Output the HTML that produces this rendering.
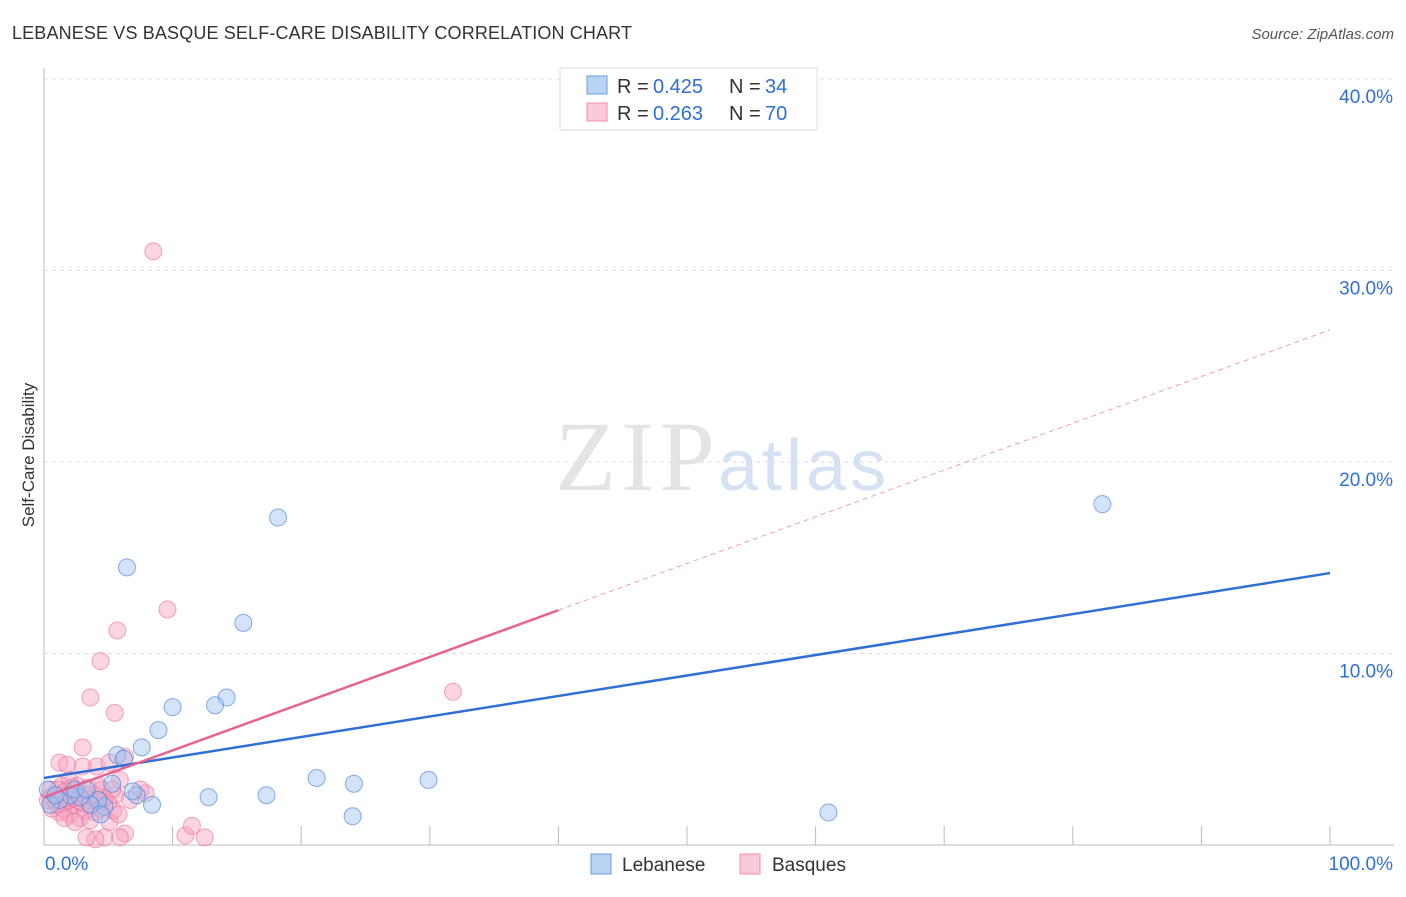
<!DOCTYPE html>
<html><head><meta charset="utf-8"><style>
body{margin:0;background:#fff;font-family:"Liberation Sans",sans-serif;}
svg text{font-family:"Liberation Sans",sans-serif;}
</style></head><body>
<svg width="1406" height="892" xmlns="http://www.w3.org/2000/svg">
<text x="12" y="39" font-size="18" fill="#333" textLength="620">LEBANESE VS BASQUE SELF-CARE DISABILITY CORRELATION CHART</text>
<text x="1394" y="39" font-size="15" fill="#555" font-style="italic" text-anchor="end">Source: ZipAtlas.com</text>
<text x="715" y="490" font-size="100" fill="#e4e4e4" text-anchor="end" textLength="160" style="font-family:'Liberation Serif',serif">ZIP</text>
<text x="718" y="490" font-size="72" fill="#d4e2f4" textLength="168">atlas</text>
<g id="grid"></g>
<g id="axes"></g>
<g id="pts"></g>
<g id="trend"></g>
<text x="34" y="455" font-size="17" fill="#333" transform="rotate(-90 34 455)" text-anchor="middle">Self-Care Disability</text>
<g>
<rect x="560" y="68" width="257" height="62" fill="#fff" stroke="#ddd"/>
<rect x="587" y="76" width="20" height="18" fill="#b9d3f5" stroke="#6a9ee0"/>
<rect x="587" y="103" width="20" height="18" fill="#fcc9d8" stroke="#ef8fb0"/>
<text x="617" y="93" font-size="20" fill="#333">R =</text>
<text x="653" y="93" font-size="20" fill="#2f6fd6">0.425</text>
<text x="729" y="93" font-size="20" fill="#333">N =</text>
<text x="765" y="93" font-size="20" fill="#2f6fd6">34</text>
<text x="617" y="120" font-size="20" fill="#333">R =</text>
<text x="653" y="120" font-size="20" fill="#2f6fd6">0.263</text>
<text x="729" y="120" font-size="20" fill="#333">N =</text>
<text x="765" y="120" font-size="20" fill="#2f6fd6">70</text>
</g>
<g>
<rect x="591" y="854" width="20" height="20" fill="#b9d3f5" stroke="#6a9ee0"/>
<text x="622" y="871" font-size="19" fill="#333">Lebanese</text>
<rect x="740" y="854" width="20" height="20" fill="#fcc9d8" stroke="#ef8fb0"/>
<text x="772" y="871" font-size="19" fill="#333">Basques</text>
</g>
</svg>
<script>
const yTicks=[10,20,30,40];
const yTickLabels=["10.0%","20.0%","30.0%","40.0%"];
const xTickLabels=["0.0%","100.0%"];
const lebX=[6.45,18.2,82.3,15.5,10.0,14.2,13.3,8.9,7.6,5.7,6.2,21.2,24.1,29.9,12.8,17.3,8.4,7.2,6.9,5.3,24.0,61.0,4.7,4.2,3.6,2.8,2.0,1.2,0.5,0.3,2.4,0.9,3.3,4.4];
const lebY=[14.5,17.1,17.8,11.6,7.2,7.7,7.3,6.0,5.1,4.7,4.5,3.5,3.2,3.4,2.5,2.6,2.1,2.6,2.8,3.2,1.5,1.7,2.0,2.35,2.1,2.5,2.6,2.35,2.1,2.9,2.9,2.6,2.9,1.6];
const basX=[8.5,9.6,5.7,4.4,3.6,5.5,31.8,3.0,1.2,1.8,6.3,4.1,3.0,5.1,2.0,2.6,5.9,7.9,5.5,4.7,3.4,1.2,0.5,0.9,1.6,2.4,3.2,4.0,5.1,2.0,2.8,3.6,1.2,6.3,5.9,4.7,4.0,3.3,11.0,11.5,12.5,0.5,0.6,1.0,1.5,1.9,2.2,2.6,3.0,3.7,4.4,5.0,5.4,5.8,0.3,1.4,2.2,3.2,4.0,4.5,1.1,1.7,2.5,3.4,4.2,5.3,6.7,7.5,1.6,2.4];
const basY=[31.0,12.3,11.2,9.6,7.7,6.9,8.0,5.1,4.3,4.2,4.6,4.1,4.1,4.3,3.4,3.1,3.4,2.7,2.6,2.45,2.35,2.6,2.5,2.35,2.2,2.1,1.8,1.7,1.2,1.6,1.4,1.3,1.7,0.6,0.4,0.4,0.3,0.4,0.5,1.0,0.4,2.9,1.9,2.1,1.9,2.35,2.45,2.35,2.2,2.1,1.9,2.2,1.8,1.6,2.35,3.1,3.0,2.6,2.6,2.9,2.9,2.8,2.7,3.0,3.1,2.9,2.35,2.9,1.4,1.2];
const lebTrend=[3.5,14.2];
const basTrend=[2.5,26.9];
const basSolidEnd=40;
const NS="http://www.w3.org/2000/svg";
const X=v=>44+v*12.86, Y=v=>845-v*19.15;
function mk(t,a,p){const e=document.createElementNS(NS,t);for(const k in a)e.setAttribute(k,a[k]);p.appendChild(e);return e;}
const grid=document.getElementById('grid'),axes=document.getElementById('axes'),pts=document.getElementById('pts'),tr=document.getElementById('trend');
yTicks.forEach((t,i)=>{
 const l=mk('line',{x1:44,x2:1394,y1:Y(t),y2:Y(t),stroke:'#ddd','stroke-dasharray':'4,4'},grid);
 
 
 const tx=mk('text',{x:1393,y:Y(t)+24,'font-size':19,fill:'#2f6fd6','text-anchor':'end'},grid);
 tx.textContent=yTickLabels[i];
 
 
});
let a=mk('line',{x1:44,x2:44,y1:68,y2:845,stroke:'#bbb'},axes);


a=mk('line',{x1:44,x2:1394,y1:845,y2:845,stroke:'#bbb'},axes);


for(let k=1;k<=10;k++){const t=mk('line',{x1:X(k*10),x2:X(k*10),y1:826,y2:845,stroke:'#bbb'},axes);
 
 }
[[0,'start',45],[100,'end',1393]].forEach((d,i)=>{const t=mk('text',{x:d[2],y:870,'font-size':19,fill:'#2f6fd6','text-anchor':d[1]},axes);t.textContent=xTickLabels[i];
 
 });
basX.forEach((x,i)=>{const c=mk('circle',{cx:X(x),cy:Y(basY[i]),r:8.5,fill:'rgba(248,160,190,0.45)',stroke:'rgba(232,110,150,0.6)','stroke-width':1},pts);
 
 });
lebX.forEach((x,i)=>{const c=mk('circle',{cx:X(x),cy:Y(lebY[i]),r:8.5,fill:'rgba(160,195,240,0.45)',stroke:'rgba(70,130,215,0.65)','stroke-width':1},pts);
 
 });
let l=mk('line',{x1:X(0),y1:Y(lebTrend[0]),x2:X(100),y2:Y(lebTrend[1]),stroke:'#2f6fd6','stroke-width':2.5},tr);


const bAt=x=>basTrend[0]+(basTrend[1]-basTrend[0])*x/100;
l=mk('line',{x1:X(0),y1:Y(bAt(0)),x2:X(basSolidEnd),y2:Y(bAt(basSolidEnd)),stroke:'#e8628f','stroke-width':2.5},tr);


l=mk('line',{x1:X(basSolidEnd),y1:Y(bAt(basSolidEnd)),x2:X(100),y2:Y(bAt(100)),stroke:'#eea0b8','stroke-width':1,'stroke-dasharray':'5,4'},tr);


</script>
</body></html>
